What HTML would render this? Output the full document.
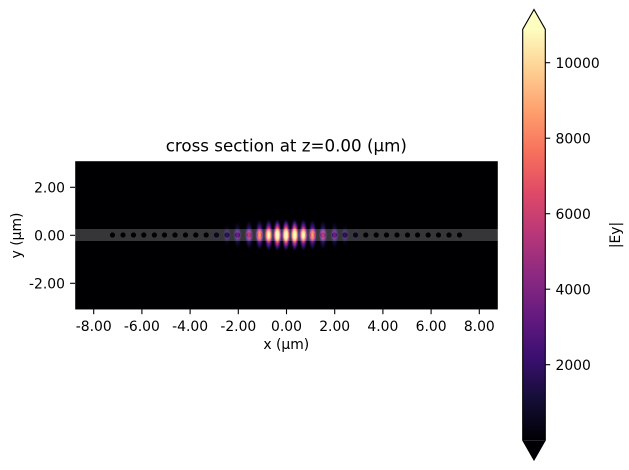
<!DOCTYPE html>
<html><head><meta charset="utf-8"><style>
html,body{margin:0;padding:0;background:#fff;}
svg{display:block;}
text{font-family:"DejaVu Sans","Liberation Sans",sans-serif;fill:#000;}
</style></head><body>
<svg width="629" height="470" viewBox="0 0 629 470" xmlns="http://www.w3.org/2000/svg">
<defs>
<filter id="magma" x="75" y="161" width="423" height="149" filterUnits="userSpaceOnUse" color-interpolation-filters="sRGB">
<feGaussianBlur stdDeviation="0.6"/>
<feComponentTransfer>
<feFuncR type="table" tableValues="0.0015 0.0788 0.2321 0.3904 0.5503 0.7164 0.8688 0.9677 0.9947 0.9951 0.9871"/>
<feFuncG type="table" tableValues="0.0005 0.0542 0.0599 0.1004 0.1612 0.2150 0.2877 0.4397 0.6244 0.8129 0.9914"/>
<feFuncB type="table" tableValues="0.0139 0.2117 0.4377 0.5019 0.5057 0.4753 0.4093 0.3598 0.4274 0.5721 0.7495"/>
</feComponentTransfer>
</filter>
<radialGradient id="g">
<stop offset="0" stop-color="#fff" stop-opacity="1"/>
<stop offset="0.3" stop-color="#fff" stop-opacity="0.88"/>
<stop offset="0.6" stop-color="#fff" stop-opacity="0.5"/>
<stop offset="0.85" stop-color="#fff" stop-opacity="0.15"/>
<stop offset="1" stop-color="#fff" stop-opacity="0"/>
</radialGradient>
<linearGradient id="cb" x1="0" y1="1" x2="0" y2="0">
<stop offset="0" stop-color="#000004"/>
<stop offset="0.1" stop-color="#140e36"/>
<stop offset="0.2" stop-color="#3b0f70"/>
<stop offset="0.3" stop-color="#641a80"/>
<stop offset="0.4" stop-color="#8c2981"/>
<stop offset="0.5" stop-color="#b73779"/>
<stop offset="0.6" stop-color="#de4968"/>
<stop offset="0.7" stop-color="#f7705c"/>
<stop offset="0.8" stop-color="#fe9f6d"/>
<stop offset="0.9" stop-color="#fecf92"/>
<stop offset="1" stop-color="#fcfdbf"/>
</linearGradient>
<clipPath id="ax"><rect x="75" y="161" width="423" height="148.5"/></clipPath>
<mask id="bandmask" maskUnits="userSpaceOnUse" x="75" y="161" width="423" height="149">
<rect x="75" y="229" width="423" height="12" fill="#fff"/>
<g fill="#000">
<circle cx="112.5" cy="235" r="2.6"/><circle cx="123" cy="235" r="2.6"/><circle cx="133.5" cy="235" r="2.6"/><circle cx="143.8" cy="235" r="2.6"/><circle cx="154.4" cy="235" r="2.6"/><circle cx="164.5" cy="235" r="2.6"/><circle cx="175" cy="235" r="2.6"/><circle cx="185.5" cy="235" r="2.6"/><circle cx="195.8" cy="235" r="2.6"/><circle cx="206.2" cy="235" r="2.6"/><circle cx="216.5" cy="235" r="2.6"/><circle cx="227" cy="235" r="2.6"/><circle cx="237.5" cy="235" r="2.6"/><circle cx="249" cy="235" r="2.6"/><circle cx="259.5" cy="235" r="2.6"/><circle cx="268.65" cy="235" r="2.6"/><circle cx="277.35" cy="235" r="2.6"/>
<circle cx="286" cy="235" r="2.6"/>
<circle cx="294.65" cy="235" r="2.6"/><circle cx="303.35" cy="235" r="2.6"/><circle cx="312.5" cy="235" r="2.6"/><circle cx="323" cy="235" r="2.6"/><circle cx="334.5" cy="235" r="2.6"/><circle cx="345" cy="235" r="2.6"/><circle cx="355.5" cy="235" r="2.6"/><circle cx="365.8" cy="235" r="2.6"/><circle cx="376.2" cy="235" r="2.6"/><circle cx="386.5" cy="235" r="2.6"/><circle cx="397" cy="235" r="2.6"/><circle cx="407.5" cy="235" r="2.6"/><circle cx="417.6" cy="235" r="2.6"/><circle cx="428.2" cy="235" r="2.6"/><circle cx="438.5" cy="235" r="2.6"/><circle cx="449" cy="235" r="2.6"/><circle cx="459.5" cy="235" r="2.6"/>
</g>
</mask>
</defs>

<!-- field -->
<g clip-path="url(#ax)">
<g filter="url(#magma)">
<rect x="75" y="161" width="423" height="149" fill="#000"/>
<g fill="url(#g)">
<!-- tall columns (lobes) -->
<g opacity="0.9">
<ellipse cx="286" cy="235" rx="4" ry="16"/><ellipse cx="277.35" cy="235" rx="4" ry="16"/><ellipse cx="294.65" cy="235" rx="4" ry="16"/>
</g>
<g opacity="0.66">
<ellipse cx="268.65" cy="235" rx="4" ry="16"/><ellipse cx="303.35" cy="235" rx="4" ry="16"/>
</g>
<g opacity="0.42">
<ellipse cx="259.5" cy="235" rx="4" ry="15.5"/><ellipse cx="312.5" cy="235" rx="4" ry="15.5"/>
</g>
<g opacity="0.26">
<ellipse cx="249" cy="235" rx="4" ry="15"/><ellipse cx="323" cy="235" rx="4" ry="15"/>
</g>
<g opacity="0.15">
<ellipse cx="237.5" cy="235" rx="4" ry="14"/><ellipse cx="334.5" cy="235" rx="4" ry="14"/>
</g>
<g opacity="0.08">
<ellipse cx="227" cy="235" rx="4" ry="12"/><ellipse cx="345" cy="235" rx="4" ry="12"/>
</g>
<!-- cores -->
<g opacity="1">
<ellipse cx="286" cy="235" rx="4.2" ry="8"/><ellipse cx="277.35" cy="235" rx="4.2" ry="8"/><ellipse cx="294.65" cy="235" rx="4.2" ry="8"/>
<ellipse cx="268.65" cy="235" rx="4.2" ry="8"/><ellipse cx="303.35" cy="235" rx="4.2" ry="8"/>
<ellipse cx="286" cy="235" rx="3.2" ry="6"/><ellipse cx="277.35" cy="235" rx="3.2" ry="6"/><ellipse cx="294.65" cy="235" rx="3.2" ry="6"/>
<ellipse cx="268.65" cy="235" rx="2.4" ry="4.5"/><ellipse cx="303.35" cy="235" rx="2.4" ry="4.5"/>
</g>
<g opacity="0.72">
<ellipse cx="259.5" cy="235" rx="4" ry="7.5"/><ellipse cx="312.5" cy="235" rx="4" ry="7.5"/>
</g>
<g opacity="0.42">
<ellipse cx="249" cy="235" rx="4" ry="7"/><ellipse cx="323" cy="235" rx="4" ry="7"/>
</g>
<g opacity="0.25">
<ellipse cx="237.5" cy="235" rx="4" ry="7"/><ellipse cx="334.5" cy="235" rx="4" ry="7"/>
</g>
<g opacity="0.13">
<ellipse cx="227" cy="235" rx="4" ry="6.5"/><ellipse cx="345" cy="235" rx="4" ry="6.5"/>
</g>
<g opacity="0.06">
<ellipse cx="216.5" cy="235" rx="4" ry="6"/><ellipse cx="355.5" cy="235" rx="4" ry="6"/>
</g>
</g>
</g>
<!-- waveguide overlay -->
<rect x="75" y="229" width="423" height="12" fill="#fff" fill-opacity="0.21" mask="url(#bandmask)"/>
</g>

<!-- axes ticks -->
<g stroke="#000" stroke-width="1.1">
<line x1="93.7" y1="309.3" x2="93.7" y2="314.2"/>
<line x1="141.9" y1="309.3" x2="141.9" y2="314.2"/>
<line x1="190.1" y1="309.3" x2="190.1" y2="314.2"/>
<line x1="238.3" y1="309.3" x2="238.3" y2="314.2"/>
<line x1="286.5" y1="309.3" x2="286.5" y2="314.2"/>
<line x1="334.7" y1="309.3" x2="334.7" y2="314.2"/>
<line x1="382.9" y1="309.3" x2="382.9" y2="314.2"/>
<line x1="431.1" y1="309.3" x2="431.1" y2="314.2"/>
<line x1="479.3" y1="309.3" x2="479.3" y2="314.2"/>
<line x1="70.1" y1="187.3" x2="75" y2="187.3"/>
<line x1="70.1" y1="235.3" x2="75" y2="235.3"/>
<line x1="70.1" y1="283.3" x2="75" y2="283.3"/>
</g>
<g font-size="13.9" text-anchor="middle">
<text x="93.7" y="331">-8.00</text>
<text x="141.9" y="331">-6.00</text>
<text x="190.1" y="331">-4.00</text>
<text x="238.3" y="331">-2.00</text>
<text x="286.5" y="331">0.00</text>
<text x="334.7" y="331">2.00</text>
<text x="382.9" y="331">4.00</text>
<text x="431.1" y="331">6.00</text>
<text x="479.3" y="331">8.00</text>
</g>
<g font-size="13.9" text-anchor="end">
<text x="65" y="192.4">2.00</text>
<text x="65" y="240.4">0.00</text>
<text x="65" y="288.4">-2.00</text>
</g>
<text x="286.3" y="349" font-size="13.9" text-anchor="middle">x (μm)</text>
<text transform="translate(20.8,235.5) rotate(-90)" font-size="13.9" text-anchor="middle">y (μm)</text>
<text x="286.3" y="151.5" font-size="16.7" text-anchor="middle">cross section at z=0.00 (μm)</text>

<!-- colorbar -->
<polygon points="522.7,29.3 534,9.5 545.3,29.3" fill="#fcfdbf"/>
<polygon points="522.7,440.2 534,460 545.3,440.2" fill="#000004"/>
<rect x="522.7" y="29.3" width="22.6" height="410.9" fill="url(#cb)"/>
<polygon points="522.7,29.3 534,9.5 545.3,29.3 545.3,440.2 534,460 522.7,440.2" fill="none" stroke="#000" stroke-width="1.1" stroke-linejoin="miter"/>
<g stroke="#000" stroke-width="1.1">
<line x1="545.3" y1="62.7" x2="550.2" y2="62.7"/>
<line x1="545.3" y1="138.2" x2="550.2" y2="138.2"/>
<line x1="545.3" y1="213.7" x2="550.2" y2="213.7"/>
<line x1="545.3" y1="289.2" x2="550.2" y2="289.2"/>
<line x1="545.3" y1="364.7" x2="550.2" y2="364.7"/>
</g>
<g font-size="13.9">
<text x="555.5" y="67.8">10000</text>
<text x="555.5" y="143.3">8000</text>
<text x="555.5" y="218.8">6000</text>
<text x="555.5" y="294.3">4000</text>
<text x="555.5" y="369.8">2000</text>
</g>
<text transform="translate(620,235) rotate(-90)" font-size="13.9" text-anchor="middle">|Ey|</text>
</svg>
</body></html>
